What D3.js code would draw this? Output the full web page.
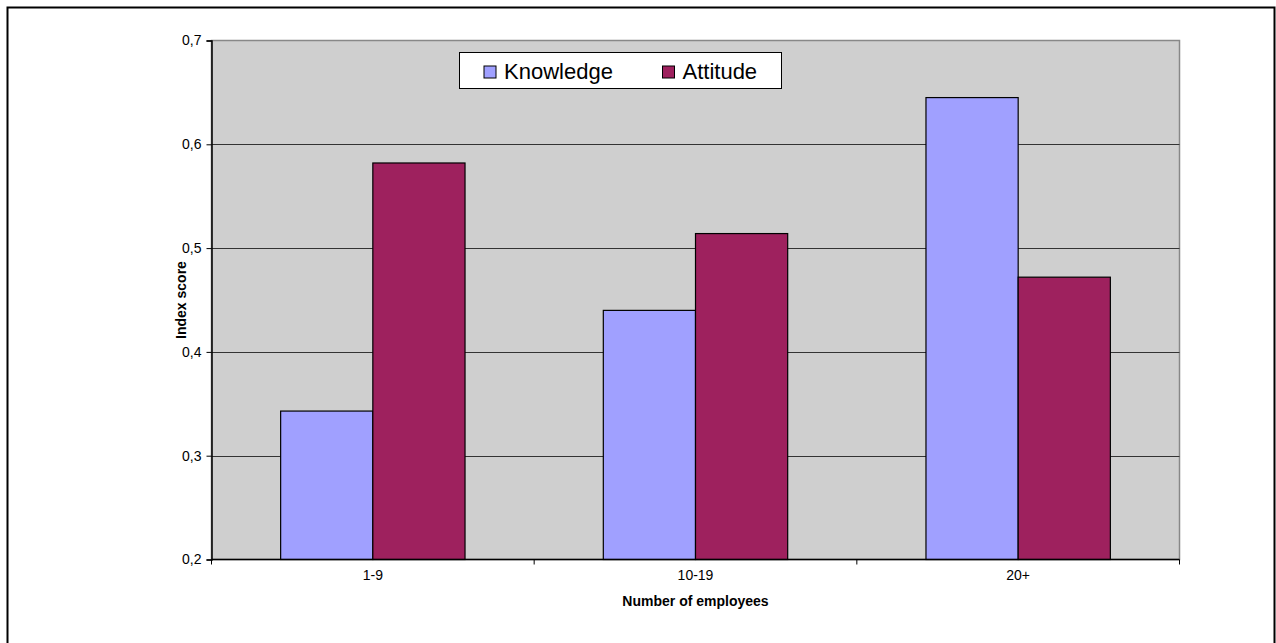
<!DOCTYPE html>
<html>
<head>
<meta charset="utf-8">
<script src="https://cdn.jsdelivr.net/npm/d3@7"></script>
<style>
  html, body { margin: 0; padding: 0; background: #fff; }
  svg { display: block; font-family: "Liberation Sans", Arial, sans-serif; }
</style>
</head>
<body>
<svg id="chart" width="1276" height="643"></svg>
<script>
// Index scores by company size
const categories = ["1-9", "10-19", "20+"];
const seriesNames = ["Knowledge", "Attitude"];
const knowledge = [0.343, 0.440, 0.645];
const attitude = [0.582, 0.514, 0.472];
const yTicks = [0.2, 0.3, 0.4, 0.5, 0.6, 0.7];
const colors = { Knowledge: "#a0a0ff", Attitude: "#9e215e" };

const svg = d3.select("#chart");
const W = 1276, H = 643;
const plot = { left: 211.5, top: 40.5, right: 1179.5, bottom: 559.5 };
const FONT = "Liberation Sans, Arial, sans-serif";

// outer frame
svg.append("rect")
  .attr("x", 7.5).attr("y", 7.5)
  .attr("width", W - 9).attr("height", H)
  .attr("fill", "#fff").attr("stroke", "#000").attr("stroke-width", 2);

const x = d3.scaleBand().domain(categories)
  .range([plot.left, plot.right]).paddingInner(0).paddingOuter(0);
const x1 = d3.scaleBand().domain(seriesNames)
  .range([0, x.bandwidth()]).paddingInner(0).paddingOuter(0.75);
const y = d3.scaleLinear().domain([0.2, 0.7]).range([plot.bottom, plot.top]);

// plot background
svg.append("rect")
  .attr("x", plot.left).attr("y", plot.top)
  .attr("width", plot.right - plot.left).attr("height", plot.bottom - plot.top)
  .attr("fill", "#cfcfcf").attr("stroke", "#888").attr("stroke-width", 1.5);

// gridlines
svg.append("g").selectAll("line")
  .data(yTicks.slice(1, -1)).join("line")
  .attr("x1", plot.left).attr("x2", plot.right)
  .attr("y1", d => Math.round(y(d)) + 0.5).attr("y2", d => Math.round(y(d)) + 0.5)
  .attr("stroke", "#333").attr("stroke-width", 1);

// bars
const rows = categories.map((c, i) => ({ cat: c, values: [
  { key: "Knowledge", v: knowledge[i] }, { key: "Attitude", v: attitude[i] }
]}));
svg.append("g").selectAll("g")
  .data(rows).join("g")
  .attr("transform", d => `translate(${x(d.cat)},0)`)
  .selectAll("rect")
  .data(d => d.values).join("rect")
  .attr("x", d => x1(d.key))
  .attr("y", d => y(d.v))
  .attr("width", x1.bandwidth())
  .attr("height", d => y(0.2) - y(d.v))
  .attr("fill", d => colors[d.key])
  .attr("stroke", "#000").attr("stroke-width", 1.2);

// y axis
const yAxis = d3.axisLeft(y).tickValues(yTicks).tickSize(5).tickPadding(5)
  .tickFormat(d => d3.format(".1f")(d).replace(".", ","));
const gy = svg.append("g").attr("transform", `translate(${plot.left},0)`).call(yAxis)
  .attr("font-size", null).attr("font-family", null);
gy.select(".domain").attr("stroke", "#000").attr("stroke-width", 1.5);
gy.selectAll(".tick line").attr("stroke", "#000");
gy.selectAll(".tick text").style("font-size", "14px").attr("fill", "#000")
  .style("font-family", FONT);

// x axis: ticks at category boundaries
const gx = svg.append("g").attr("transform", `translate(0,${plot.bottom})`);
gx.append("line").attr("x1", plot.left).attr("x2", plot.right)
  .attr("stroke", "#000").attr("stroke-width", 1.5);
const bounds = categories.map(c => x(c)).concat([x.range()[1]]);
gx.selectAll("line.tk").data(bounds).join("line").attr("class", "tk")
  .attr("x1", d => d).attr("x2", d => d).attr("y1", 0).attr("y2", 5)
  .attr("stroke", "#000");
gx.selectAll("text").data(categories).join("text")
  .attr("x", d => x(d) + x.bandwidth() / 2).attr("y", 20)
  .attr("text-anchor", "middle").style("font-size", "14px").attr("fill", "#000")
  .text(d => d);

// axis titles
svg.append("text")
  .attr("x", (plot.left + plot.right) / 2).attr("y", 606)
  .attr("text-anchor", "middle").style("font-size", "14px").attr("font-weight", "bold")
  .text("Number of employees");
svg.append("text")
  .attr("transform", `translate(186,${(plot.top + plot.bottom) / 2}) rotate(-90)`)
  .attr("text-anchor", "middle").style("font-size", "14px").attr("font-weight", "bold")
  .text("Index score");

// legend
const lg = svg.append("g").attr("transform", "translate(459.5,52.5)");
lg.append("rect").attr("width", 322).attr("height", 36)
  .attr("fill", "#fff").attr("stroke", "#000").attr("stroke-width", 1);
const legendX = [24.5, 203];
seriesNames.forEach((s, i) => {
  lg.append("rect").attr("x", legendX[i]).attr("y", 13.5).attr("width", 12).attr("height", 12)
    .attr("fill", colors[s]).attr("stroke", "#000").attr("stroke-width", 1);
  lg.append("text").attr("x", legendX[i] + 20).attr("y", 26.5)
    .style("font-size", "22px").attr("fill", "#000").text(s);
});
</script>
</body>
</html>
